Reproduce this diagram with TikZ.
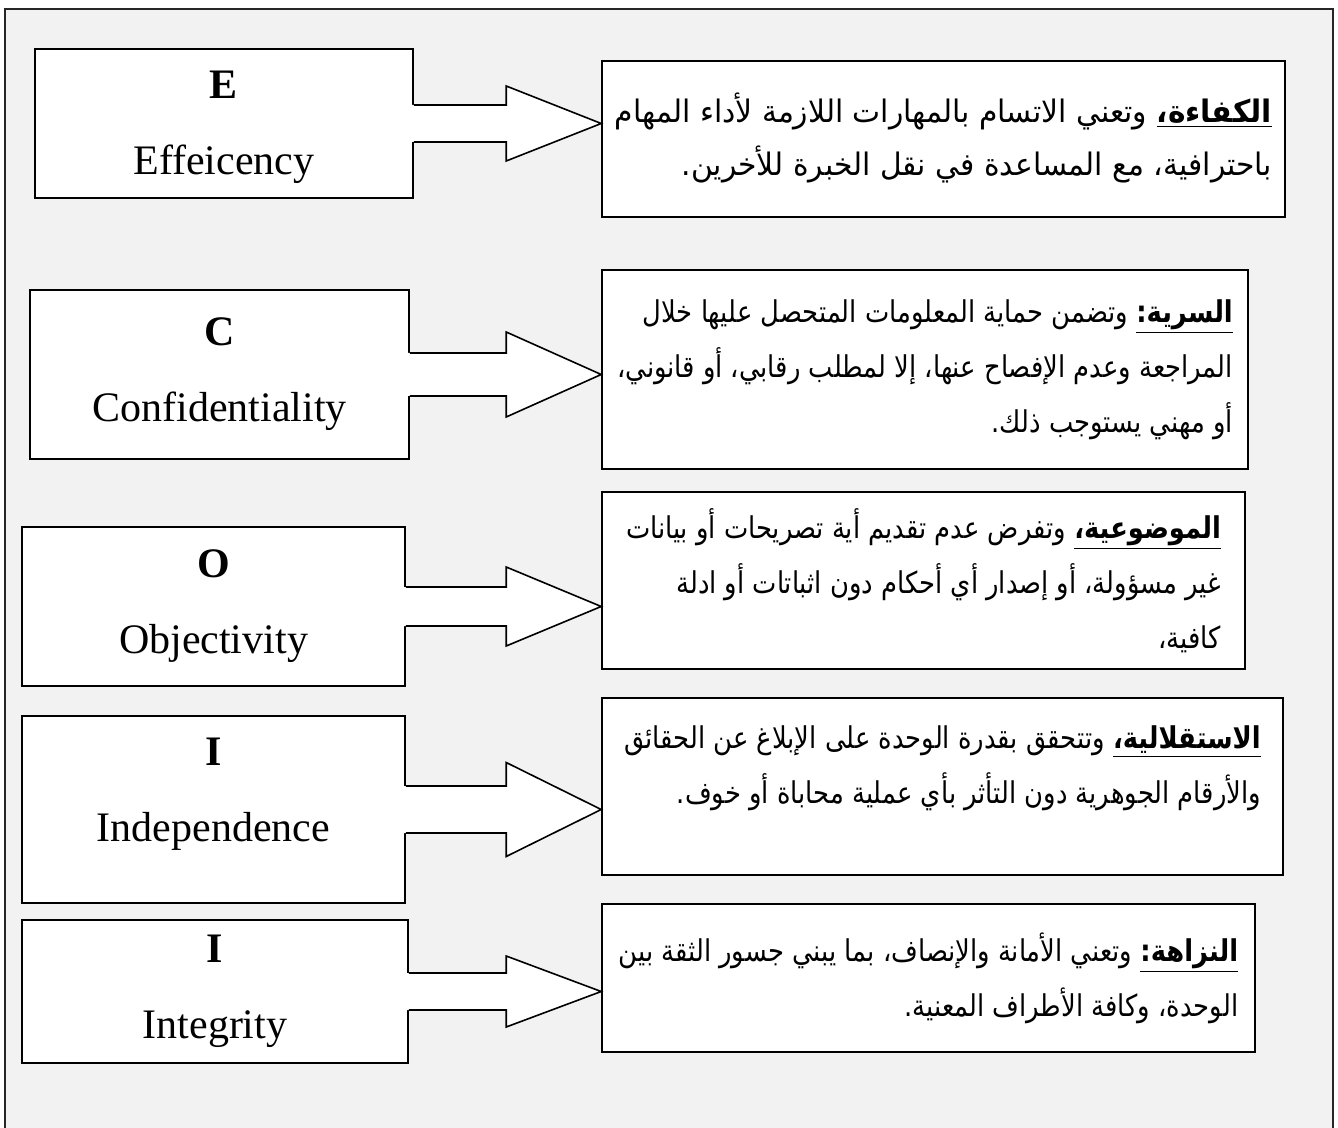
\documentclass[tikz,border=0pt]{standalone}
\usepackage{fontspec}
\setmainfont{Liberation Serif}
\newfontfamily\arabicfont[Script=Arabic,FakeStretch=0.86]{DejaVu Sans}
\newfontfamily\arabicwide[Script=Arabic,FakeStretch=0.96]{DejaVu Sans}
\TeXXeTstate=1
\usepackage{tikz}
\usetikzlibrary{calc,positioning}
\definecolor{panel}{HTML}{F2F2F2}
\tikzset{
  every node/.style={text=black},
  letterbox/.style={draw=black,line width=0.8pt,fill=white,align=center,inner sep=0pt,font=\fontsize{21}{38}\selectfont},
  descbox/.style={draw=black,line width=0.8pt,fill=white,align=right,inner sep=0pt,font=\arabicfont\fontsize{15}{27.5}\selectfont},
  blockarr/.style={draw=black,line width=0.8pt,line join=miter},
  frame/.style={draw=black!85,line width=0.8pt}
}
\newcommand{\rtlline}[1]{\beginR#1\endR}
\newcommand{\termhead}[1]{\underline{\textbf{#1}}}
\newcommand{\blockarrow}[4]{%
  \fill[white] ($(#1.east)+(-2,-#3)$) -- ($(#2.west |- #1.east)+(-95,-#3)$) -- ($(#2.west |- #1.east)+(-95,-#4)$)
    -- (#2.west |- #1.east) -- ($(#2.west |- #1.east)+(-95,#4)$) -- ($(#2.west |- #1.east)+(-95,#3)$) -- ($(#1.east)+(-2,#3)$) -- cycle;
  \draw[blockarr] ($(#1.east)+(0,-#3)$) -- ($(#2.west |- #1.east)+(-95,-#3)$) -- ($(#2.west |- #1.east)+(-95,-#4)$)
    -- (#2.west |- #1.east) -- ($(#2.west |- #1.east)+(-95,#4)$) -- ($(#2.west |- #1.east)+(-95,#3)$) -- ($(#1.east)+(0,#3)$);
}
\begin{document}
\begin{tikzpicture}[x=0.5pt,y=-0.5pt]
  \useasboundingbox (0,0) rectangle (1338,1128);
  \fill[white] (0,0) rectangle (1338,1128);
  \fill[panel] (5,9) rectangle (1333,1128);
  \draw[frame] (5,1128) -- (5,9) -- (1333,9) -- (1333,1128);

  \node[letterbox,minimum width=189pt,minimum height=74.5pt,text depth=1pt] (eff) at (224,123.5) {\textbf{E}\\Effeicency};
  \node[letterbox,minimum width=189.5pt,minimum height=84.5pt] (conf) at (219.5,374.5) {\textbf{C}\\Confidentiality};
  \node[letterbox,minimum width=191.5pt,minimum height=79.5pt] (obj) at (213.5,606.5) {\textbf{O}\\Objectivity};
  \node[letterbox,minimum width=191.5pt,minimum height=93.5pt,text depth=19.5pt] (indep) at (213.5,809.5) {\textbf{I}\\Independence};
  \node[letterbox,minimum width=193pt,minimum height=71.5pt] (integ) at (215,991.5) {\textbf{I}\\Integrity};

  \node[descbox,font=\arabicwide\fontsize{15.5}{26.5}\selectfont,minimum width=341.5pt,minimum height=78pt,text depth=5pt] (effdesc) at (943.5,139)
    {\rtlline{\termhead{الكفاءة،} وتعني الاتسام بالمهارات اللازمة لأداء المهام}\\
     \rtlline{باحترافية، مع المساعدة في نقل الخبرة للأخرين.}};
  \node[descbox,minimum width=323pt,minimum height=99.5pt] (confdesc) at (925,369.5)
    {\rtlline{\termhead{السرية:} وتضمن حماية المعلومات المتحصل عليها خلال}\\
     \rtlline{المراجعة وعدم الإفصاح عنها، إلا لمطلب رقابي، أو قانوني،}\\
     \rtlline{أو مهني يستوجب ذلك.}};
  \node[descbox,minimum width=321.5pt,minimum height=88.5pt] (objdesc) at (923.5,580.5)
    {\rtlline{\termhead{الموضوعية،} وتفرض عدم تقديم أية تصريحات أو بيانات}\\
     \rtlline{غير مسؤولة، أو إصدار أي أحكام دون اثباتات أو ادلة}\\
     \rtlline{كافية،}};
  \node[descbox,minimum width=340.5pt,minimum height=88.5pt,text depth=22pt] (indepdesc) at (942.5,786.5)
    {\rtlline{\termhead{الاستقلالية،} وتتحقق بقدرة الوحدة على الإبلاغ عن الحقائق}\\
     \rtlline{والأرقام الجوهرية دون التأثر بأي عملية محاباة أو خوف.}};
  \node[descbox,minimum width=326.5pt,minimum height=74pt] (integdesc) at (928.5,978)
    {\rtlline{\termhead{النزاهة:} وتعني الأمانة والإنصاف، بما يبني جسور الثقة بين}\\
     \rtlline{الوحدة، وكافة الأطراف المعنية.}};

  \blockarrow{eff}{effdesc}{18.5}{37.5}
  \blockarrow{conf}{confdesc}{21.5}{42.5}
  \blockarrow{obj}{objdesc}{19.5}{39.5}
  \blockarrow{indep}{indepdesc}{23.5}{47}
  \blockarrow{integ}{integdesc}{18.5}{35.5}
\end{tikzpicture}
\end{document}
